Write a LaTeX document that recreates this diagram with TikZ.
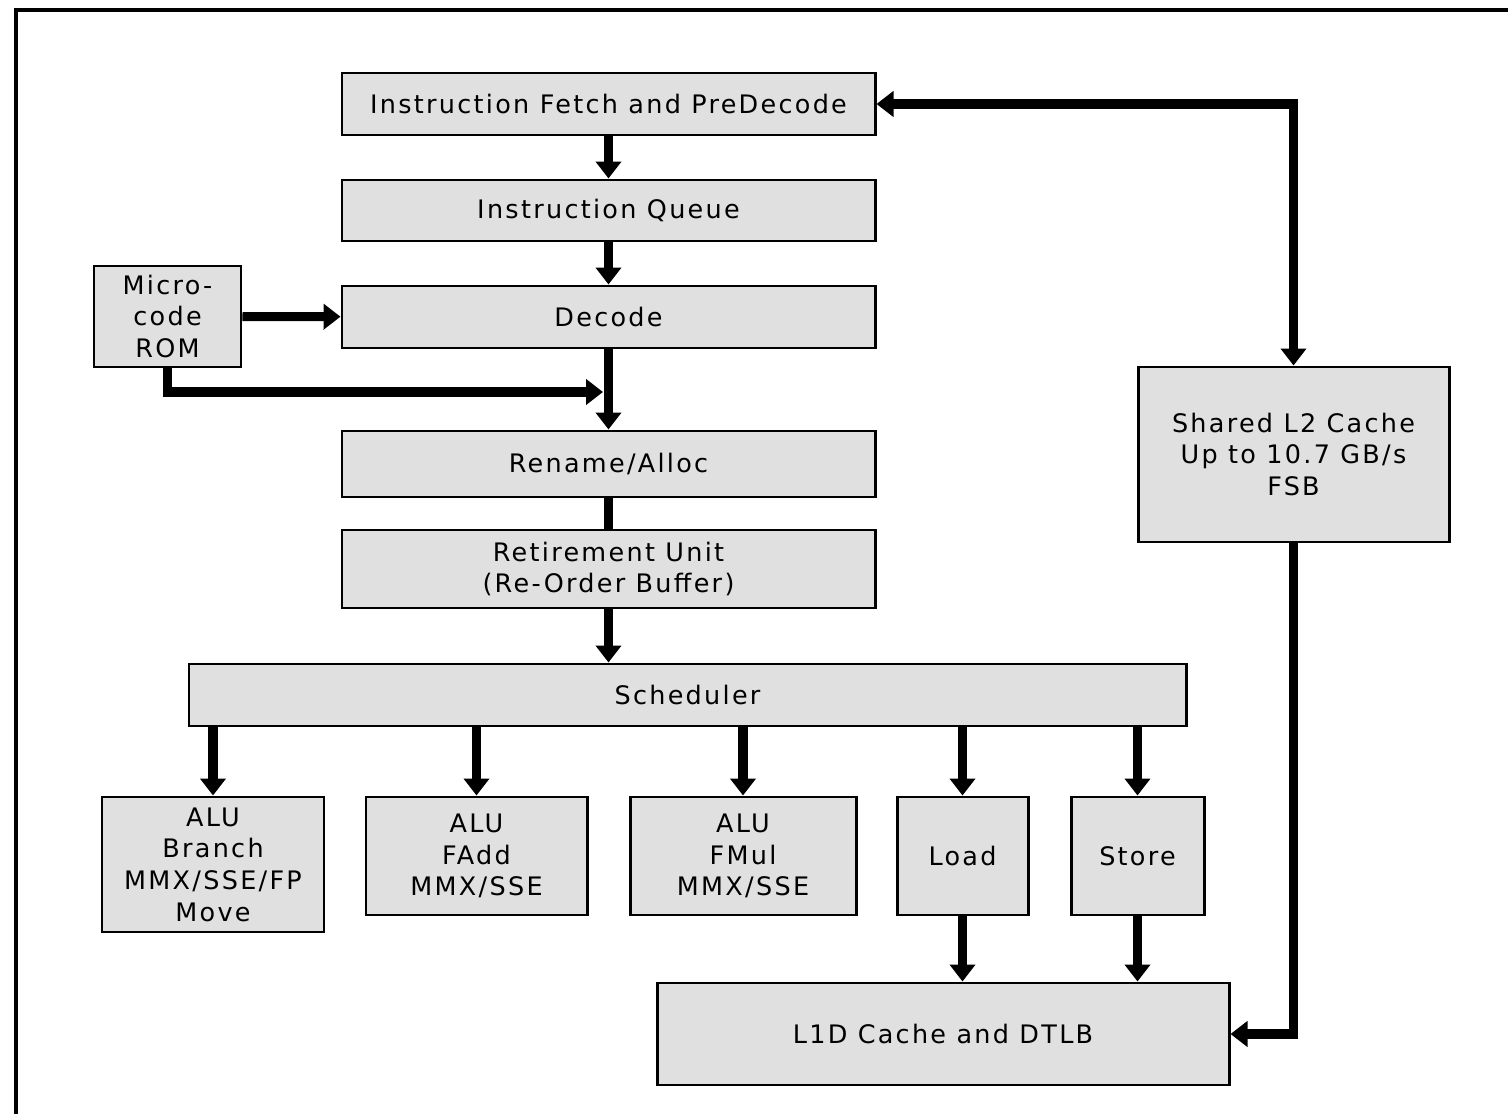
\documentclass[tikz,border=0pt]{standalone}
\usepackage{fontspec}
\usetikzlibrary{arrows.meta}
\newfontfamily\boxfont[LetterSpace=9]{DejaVu Sans}
\definecolor{boxgray}{gray}{0.88}
\begin{document}
\begin{tikzpicture}[x=0.02cm,y=-0.02cm,
  blk/.style={draw, line width=1.7pt, fill=boxgray, align=center, inner sep=0pt,
    font=\boxfont\fontsize{14.5}{18}\selectfont},
  tipp/.tip={Triangle[width=0.5cm,length=0.34cm]},
  wire/.style={line width=5.2pt},
  conn/.style={wire, -tipp},
  both/.style={wire, tipp-tipp}]
\useasboundingbox (0,0) rectangle (1508,1114);
% outer frame: top and left edges
\draw[line width=2.2pt] (16,1114) -- (16,10) -- (1508,10);

% pipeline front end
\node[blk, minimum width=533*0.02cm, minimum height=62*0.02cm] (fetch) at (608.5,104) {Instruction Fetch and PreDecode};
\node[blk, minimum width=533*0.02cm, minimum height=61*0.02cm] (queue) at (608.5,210.5) {Instruction Queue};
\node[blk, minimum width=533*0.02cm, minimum height=62*0.02cm] (decode) at (608.5,317) {Decode};
\node[blk, minimum width=147*0.02cm, minimum height=101*0.02cm] (rom) at (167.5,316.5) {Micro-\\code\\ROM};
\node[blk, minimum width=533*0.02cm, minimum height=66*0.02cm] (rename) at (608.5,464) {Rename/Alloc};
\node[blk, minimum width=533*0.02cm, minimum height=78*0.02cm] (retire) at (608.5,569) {Retirement Unit\\(Re-Order Buffer)};
\node[blk, minimum width=997*0.02cm, minimum height=62*0.02cm] (sched) at (687.5,695) {Scheduler};

% execution units
\node[blk, minimum width=222*0.02cm, minimum height=135*0.02cm] (alua) at (213,864.5) {ALU\\Branch\\MMX/SSE/FP\\Move};
\node[blk, minimum width=221*0.02cm, minimum height=118*0.02cm] (alub) at (476.5,856) {ALU\\FAdd\\MMX/SSE};
\node[blk, minimum width=226*0.02cm, minimum height=118*0.02cm] (aluc) at (743,856) {ALU\\FMul\\MMX/SSE};
\node[blk, minimum width=131*0.02cm, minimum height=118*0.02cm] (load) at (962.5,856) {Load};
\node[blk, minimum width=133*0.02cm, minimum height=118*0.02cm] (store) at (1137.5,856) {Store};

% memory
\node[blk, minimum width=572*0.02cm, minimum height=102*0.02cm] (l1d) at (943,1034) {L1D Cache and DTLB};
\node[blk, minimum width=311*0.02cm, minimum height=175*0.02cm] (l2) at (1293.5,454.5) {Shared L2 Cache\\Up to 10.7 GB/s\\FSB};

% front-end flow
\draw[conn] (fetch) -- (queue);
\draw[conn] (queue) -- (decode);
\draw[conn] (decode) -- (rename);
\draw[conn] (rom) -- (decode);
\coordinate (join) at (603,392);
\draw[conn] (rom.south) |- (join);
\draw[wire] (rename) -- (retire);
\draw[conn] (retire.south) -- (retire.south |- sched.north);

% dispatch ports
\foreach \u in {alua,alub,aluc,load,store}
  \draw[conn] (\u.north |- sched.south) -- (\u.north);
\draw[conn] (load.south) -- (load.south |- l1d.north);
\draw[conn] (store.south) -- (store.south |- l1d.north);

% L2 links
\draw[both] (fetch.east) -| (l2.north);
\draw[conn] (l2.south) |- (l1d.east);
\end{tikzpicture}
\end{document}
